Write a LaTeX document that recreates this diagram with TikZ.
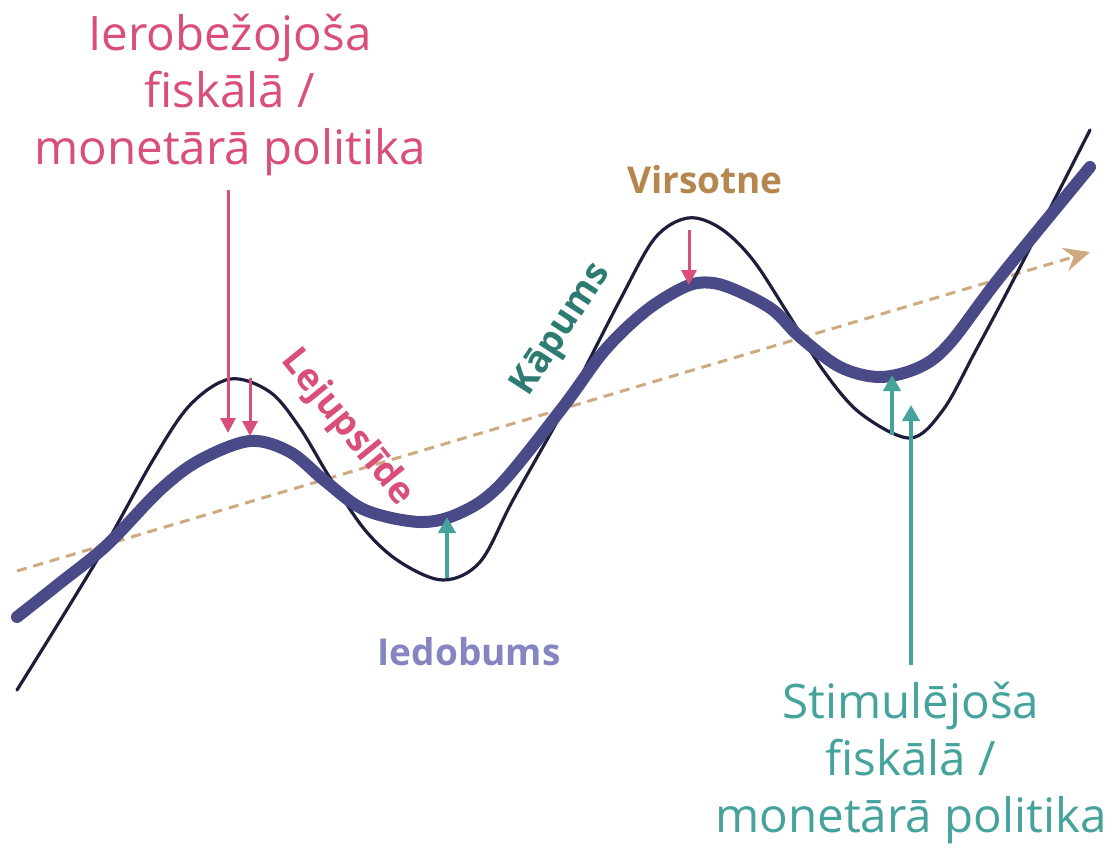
\documentclass[tikz,border=0pt]{standalone}
\usepackage{fontspec}
\setmainfont{Open Sans}
\usetikzlibrary{arrows.meta}
\definecolor{pinkc}{HTML}{D94F78}
\definecolor{tealc}{HTML}{45A39B}
\definecolor{tealdark}{HTML}{2E7B72}
\definecolor{tanc}{HTML}{CDAA7F}
\definecolor{brownc}{HTML}{B5874F}
\definecolor{thickc}{HTML}{4A4A88}
\definecolor{thinc}{HTML}{1E1E3C}
\definecolor{lavc}{HTML}{8585C2}
\tikzset{
  bigtext/.style={align=center, font=\fontsize{47.5}{57}\selectfont},
  lbl/.style={font=\fontsize{37}{42}\selectfont\bfseries},
  pinkarrow/.style={draw=pinkc, line width=3pt, -{Triangle[width=15pt,length=15pt]}, pinkc},
  tealarrow/.style={draw=tealc, line width=4pt, -{Triangle[width=17pt,length=16pt]}, tealc},
  thincurve/.style={draw=thinc, line width=3.2pt, line cap=round},
  thickcurve/.style={draw=thickc, line width=12pt, line cap=round},
  trendline/.style={draw=tanc, line width=3pt, dash pattern=on 10pt off 7pt, -{Stealth[length=26pt,width=24pt,inset=9pt]}},
}
\begin{document}
\begin{tikzpicture}[x=1pt,y=-1pt]
\useasboundingbox[fill=white] (0,0) rectangle (1115,847);
% trend
\coordinate (t0) at (17,571);
\coordinate (t1) at (1090,252);
\draw[trendline] (t0) -- (t1);
% thin curve
\draw[thincurve] plot[smooth, tension=0.55] coordinates {
(17,690) (97,560) (153,460) (190,405) (230,379) (270,392) (300,428) (330,478)
(365,530) (400,562) (443,580) (480,562) (513,500) (565,407) (620,300) (655,238)
(688,218) (720,228) (753,260) (790,317) (823,370) (860,413) (910,438) (943,410)
(975,352) (1017,273) (1090,130)};
% thick curve
\draw[thickcurve] plot[smooth, tension=0.55] coordinates {
(17,617) (60,583) (107,545) (160,490) (200,460) (250,441) (290,452) (325,481)
(365,510) (420,522) (460,513) (500,485) (563,407) (605,350) (647,310) (687,286)
(713,283) (740,292) (773,310) (800,337) (840,367) (880,377) (920,367) (950,343)
(1000,277) (1090,167)};
% texts
\node[bigtext, text=pinkc] (restr) at (230,95) {Ierobežojoša\\fiskālā /\\monetārā politika};
\node[bigtext, text=tealc] (stim) at (911,763) {Stimulējoša\\fiskālā /\\monetārā politika};
\node[lbl, text=brownc] (peak) at (705,180) {Virsotne};
\node[lbl, text=lavc] (trough) at (469,652) {Iedobums};
\node[lbl, text=pinkc, rotate=-51] (down) at (347,428) {Lejupslīde};
\node[lbl, text=tealdark, rotate=57] (up) at (562,330) {Kāpums};
% arrows
\coordinate (a1s) at (228,190); \coordinate (a1e) at (228,433);
\coordinate (a2s) at (250,378); \coordinate (a2e) at (250,436);
\coordinate (a3s) at (689,230); \coordinate (a3e) at (689,285);
\coordinate (b1s) at (447,578); \coordinate (b1e) at (447,517);
\coordinate (b2s) at (892,435); \coordinate (b2e) at (892,375);
\coordinate (b3s) at (911,665); \coordinate (b3e) at (911,405);
\draw[pinkarrow] (a1s) -- (a1e);
\draw[pinkarrow] (a2s) -- (a2e);
\draw[pinkarrow] (a3s) -- (a3e);
\draw[tealarrow] (b1s) -- (b1e);
\draw[tealarrow] (b2s) -- (b2e);
\draw[tealarrow] (b3s) -- (b3e);
\end{tikzpicture}
\end{document}
